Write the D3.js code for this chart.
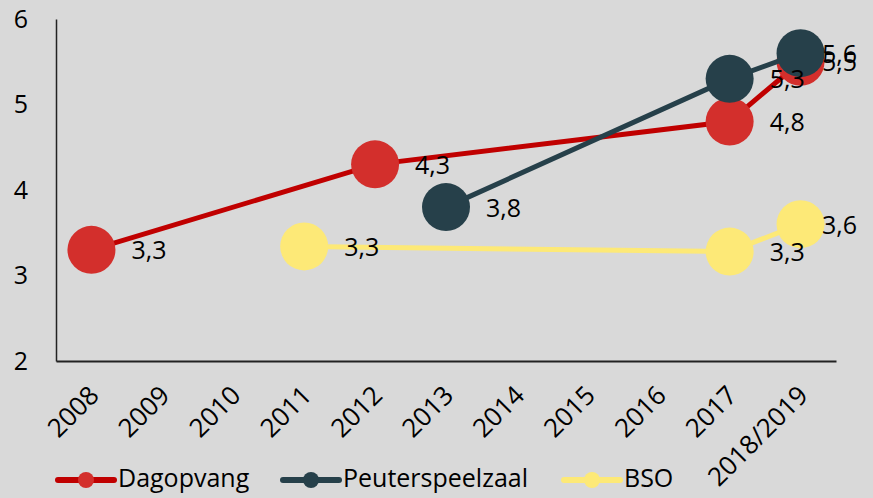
<!DOCTYPE html>
<html>
<head>
<meta charset="utf-8">
<script src="https://cdn.jsdelivr.net/npm/d3@7"></script>
<style>
  html, body { margin: 0; padding: 0; background: #d9d9d9; }
  svg text { font-family: "Open Sans", sans-serif; fill: #000; }
</style>
</head>
<body>
<div id="chart"></div>
<script>
// categories on the x axis
const years = ["2008", "2009", "2010", "2011", "2012", "2013", "2014", "2015", "2016", "2017", "2018/2019"];

// series values (only the years that have a value)
const dagopvang = [
  { year: "2008", value: 3.3 },
  { year: "2012", value: 4.3 },
  { year: "2017", value: 4.8 },
  { year: "2018/2019", value: 5.5 },
];
const peuterspeelzaal = [
  { year: "2013", value: 3.8 },
  { year: "2017", value: 5.3 },
  { year: "2018/2019", value: 5.6 },
];
const bso = [
  { year: "2011", value: 3.34 },
  { year: "2017", value: 3.28 },
  { year: "2018/2019", value: 3.6 },
];

const yTicks = [2, 3, 4, 5, 6];

const series = [
  { name: "Dagopvang", data: dagopvang, line: "#c00000", dot: "#d32f2c" },
  { name: "Peuterspeelzaal", data: peuterspeelzaal, line: "#26404a", dot: "#26404a" },
  { name: "BSO", data: bso, line: "#fde977", dot: "#fde977" },
];

const width = 873, height = 498;
const margin = { top: 19, right: 37, bottom: 137, left: 56 };
const fontSize = 25;

const svg = d3.select("#chart").append("svg")
  .attr("width", width)
  .attr("height", height);

svg.append("rect").attr("width", width).attr("height", height).attr("fill", "#d9d9d9");

const x = d3.scaleBand()
  .domain(years)
  .range([margin.left, width - margin.right])
  .padding(0);

const cx = d => x(d) + x.bandwidth() / 2;

const y = d3.scaleLinear()
  .domain([2, 6])
  .range([height - margin.bottom, margin.top]);

// y axis
const yAxis = svg.append("g")
  .attr("transform", `translate(${margin.left},0)`)
  .call(d3.axisLeft(y).tickValues(yTicks).tickSize(0).tickPadding(28).tickFormat(d3.format("d")));
yAxis.select(".domain").attr("stroke", "#222").attr("stroke-width", 1.5);
yAxis.selectAll("text").style("font-size", fontSize + "px").attr("fill", "#000");

// x axis
const xAxis = svg.append("g")
  .attr("transform", `translate(0,${height - margin.bottom})`)
  .call(d3.axisBottom(x).tickSize(0).tickPadding(0));
xAxis.select(".domain").attr("stroke", "#222").attr("stroke-width", 2);
xAxis.selectAll("text")
  .style("font-size", "26px")
  .attr("fill", "#000")
  .attr("text-anchor", "end")
  .attr("dy", 0)
  .attr("transform", "translate(9,36) rotate(-45)");

const line = d3.line()
  .x(d => cx(d.year))
  .y(d => y(d.value));

const r = 24;

series.forEach(s => {
  svg.append("path")
    .datum(s.data)
    .attr("fill", "none")
    .attr("stroke", s.line)
    .attr("stroke-width", 5)
    .attr("d", line);

  svg.append("g")
    .selectAll("circle")
    .data(s.data)
    .join("circle")
    .attr("cx", d => cx(d.year))
    .attr("cy", d => y(d.value))
    .attr("r", r)
    .attr("fill", s.dot);
});

const fmt = v => v.toFixed(1).replace(".", ",");

// data labels, pushed back inside the right edge when they would spill out
series.forEach(s => {
  svg.append("g")
    .selectAll("text")
    .data(s.data)
    .join("text")
    .attr("y", d => y(d.value))
    .attr("dy", "0.38em")
    .style("font-size", fontSize + "px")
    .text(d => fmt(d.value))
    .attr("x", function(d) {
      const w = this.getComputedTextLength();
      return Math.min(cx(d.year) + 40, width - 16 - w);
    });
});

// legend
const legendPos = [58, 283, 564];
const legendY = 480;
const legend = svg.append("g");
series.forEach((s, i) => {
  const g = legend.append("g").attr("transform", `translate(${legendPos[i]},${legendY})`);
  g.append("line")
    .attr("x1", 0).attr("x2", 56)
    .attr("y1", 0).attr("y2", 0)
    .attr("stroke", s.line)
    .attr("stroke-width", 6)
    .attr("stroke-linecap", "round");
  g.append("circle")
    .attr("cx", 28).attr("cy", 0).attr("r", 8)
    .attr("fill", s.dot);
  g.append("text")
    .attr("x", 60)
    .attr("y", -2)
    .attr("dy", "0.35em")
    .style("font-size", fontSize + "px")
    .text(s.name);
});
</script>
</body>
</html>
